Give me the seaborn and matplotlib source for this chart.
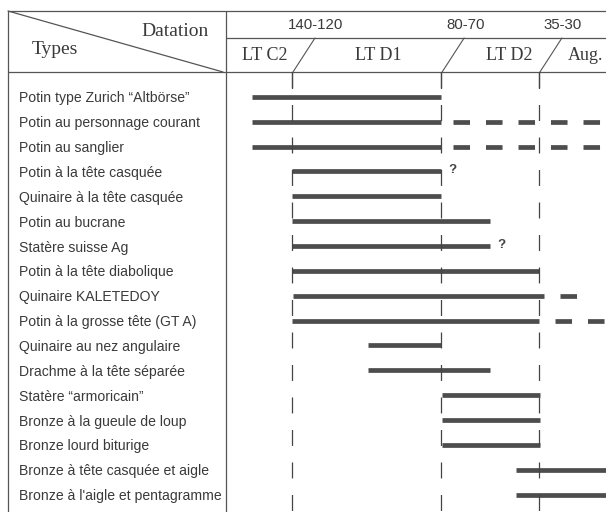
import numpy as np
import pandas as pd
import matplotlib
matplotlib.use("Agg")
import matplotlib.pyplot as plt
import seaborn as sns

# types de monnaies (lignes du tableau)
types = [
    "Potin type Zurich “Altbörse”",
    "Potin au personnage courant",
    "Potin au sanglier",
    "Potin à la tête casquée",
    "Quinaire à la tête casquée",
    "Potin au bucrane",
    "Statère suisse Ag",
    "Potin à la tête diabolique",
    "Quinaire KALETEDOY",
    "Potin à la grosse tête (GT A)",
    "Quinaire au nez angulaire",
    "Drachme à la tête séparée",
    "Statère “armoricain”",
    "Bronze à la gueule de loup",
    "Bronze lourd biturige",
    "Bronze à tête casquée et aigle",
    "Bronze à l'aigle et pentagramme",
]

# position relative sur l'échelle chronologique (0-100)
start = [6.6, 6.6, 6.6, 17.2, 17.2, 17.2, 17.2, 17.2, 17.4, 17.2,
         37.2, 37.2, 56.7, 56.7, 56.7, 76.3, 76.3]
end = [56.5, 56.5, 56.5, 56.5, 56.5, 69.4, 69.4, 82.3, 83.6, 82.3,
       56.5, 69.4, 82.6, 82.6, 82.6, 101, 101]

# prolongements incertains (tirets)
dash_row = [1, 2, 8, 9]
dash_start = [59.6, 59.6, 87.9, 86.5]
dash_end = [101, 101, 92.3, 101]

# datations douteuses
doubt_row = [3, 6]
doubt_x = [56.5, 69.4]

# limites de phases
bounds = [17.15, 56.5, 82.3]
bound_labels = ["140-120", "80-70", "35-30"]
phases = ["LT C2", "LT D1", "LT D2", "Aug."]

sns.set_theme(style="white")
plt.rcParams["font.family"] = ["Liberation Sans", "DejaVu Sans"]
plt.rcParams["lines.scale_dashes"] = False

W, H = 606, 512
fig = plt.figure(figsize=(W / 100, H / 100), dpi=100)
fig.patch.set_facecolor("white")

# fond: cadre du tableau en pixels
bg = fig.add_axes([0, 0, 1, 1], zorder=0)
bg.set_xlim(0, W)
bg.set_ylim(H, 0)
bg.axis("off")
lc = "#555555"
lw = 0.9
bg.plot([8, W], [11, 11], color=lc, lw=lw)
bg.plot([8, 8], [11, H], color=lc, lw=lw)
bg.plot([226, 226], [11, H], color=lc, lw=lw)
bg.plot([226, W], [38, 38], color=lc, lw=lw)
bg.plot([8, W], [72, 72], color=lc, lw=lw)
bg.plot([8, 223], [11, 72], color=lc, lw=lw)
serif = ["Liberation Serif", "DejaVu Serif"]
txt = "#3a3a3a"
bg.text(209, 31, "Datation", family=serif, fontsize=14, color=txt,
        ha="right", va="center")
bg.text(32, 49, "Types", family=serif, fontsize=14, color=txt,
        ha="left", va="center")

# graphique principal
ax = fig.add_axes([227 / W, 0, 379 / W, 440 / H], zorder=1)
ax.patch.set_alpha(0)

rows = list(range(len(types)))
df = pd.DataFrame({
    "x": start + end,
    "row": rows + rows,
    "seg": rows + rows,
})
df = df.sort_values(["seg", "x"])
bar_col = "#4d4d4d"
sns.lineplot(data=df, x="x", y="row", units="seg", estimator=None, sort=False,
             color=bar_col, lw=3.4, solid_capstyle="butt", legend=False, ax=ax)

dd = pd.DataFrame({
    "x": dash_start + dash_end,
    "row": dash_row + dash_row,
    "seg": dash_row + dash_row,
}).sort_values(["seg", "x"])
sns.lineplot(data=dd, x="x", y="row", units="seg", estimator=None, sort=False,
             color=bar_col, lw=3.4, linestyle=(0, (11.9, 11.5)),
             dash_capstyle="butt", legend=False, ax=ax)

ylo, yhi = 16.7, -1.0
for b in bounds:
    ax.plot([b, b], [yhi, ylo], color="#444444", lw=0.9,
            linestyle=(0, (11.5, 11.9)), dash_capstyle="butt")

for r, x in zip(doubt_row, doubt_x):
    ax.annotate("?", (x, r), xytext=(8, 1), textcoords="offset points",
                fontsize=9.5, fontweight="bold", color="#444444",
                ha="center", va="center")

ax.set_xlim(0, 100)
ax.set_ylim(ylo, yhi)
ax.set_xlabel("")
ax.set_ylabel("")
ax.set_xticks([])
ax.set_yticks(rows, labels=types)
ax.tick_params(axis="y", length=0, pad=149.5, labelsize=10.1,
               labelcolor=txt)
for t in ax.get_yticklabels():
    t.set_ha("left")
sns.despine(ax=ax, left=True, bottom=True)

# en-tête: dates et phases au-dessus des limites
for b, lab in zip(bounds, bound_labels):
    x0 = ax.transData.transform((b, 0))[0]
    top = bg.transData.inverted().transform((x0, 0))[0]
    bg.plot([top + 23, top + 1], [38, 72], color=lc, lw=0.8)
    bg.plot([top, top], [72, 88], color="#444444", lw=0.9)
    bg.text(top + 24, 25, lab, fontsize=10.8, color=txt,
            ha="center", va="center")

phase_x = [265, 378, 509, 568]
phase_ha = ["center", "center", "center", "left"]
for px, ph, ha in zip(phase_x, phases, phase_ha):
    bg.text(px, 56, ph, family=serif, fontsize=13, color=txt,
            ha=ha, va="center")

fig.savefig("out.png", dpi=100)
